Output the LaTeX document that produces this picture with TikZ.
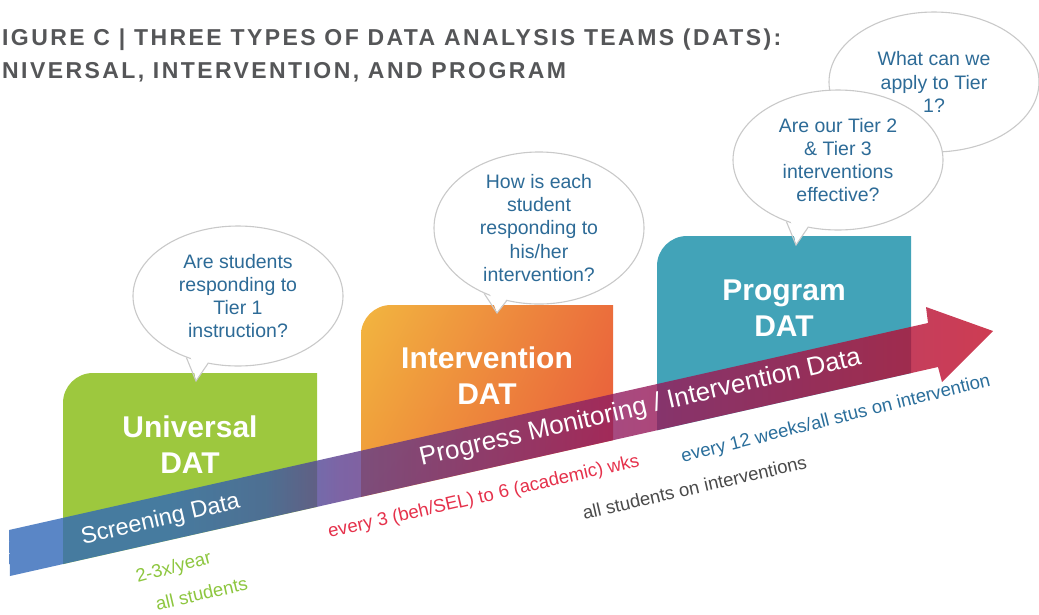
\documentclass[tikz,border=0pt]{standalone}
\usepackage{fontspec}
\setmainfont{Liberation Sans}
\newfontfamily\titlefont[LetterSpace=10.5]{Liberation Sans}
\usetikzlibrary{shapes.geometric,calc,shadings}

\definecolor{titlegray}{HTML}{555658}
\definecolor{unigreen}{HTML}{9DC83E}
\definecolor{proteal}{HTML}{42A3B8}
\definecolor{ivYellow}{HTML}{F2B640}
\definecolor{ivOrangeA}{HTML}{EB6E3C}
\definecolor{ivOrangeB}{HTML}{EF9539}
\definecolor{ivRed}{HTML}{E8553C}
\definecolor{qblue}{HTML}{2D6B97}
\definecolor{bubbleline}{HTML}{C9C9C9}
\definecolor{txtgreen}{HTML}{8DC63F}
\definecolor{txtred}{HTML}{E5314B}
\definecolor{txtgray}{HTML}{4A4A4A}
\definecolor{txtblue}{HTML}{2A6E9B}
\definecolor{bandA}{HTML}{3168B8}
\definecolor{bandAB}{HTML}{3A5AA8}
\definecolor{bandB}{HTML}{5C3D8E}
\definecolor{bandC}{HTML}{951A5C}
\definecolor{bandD}{HTML}{C10B27}

% colour run of the data arrow, left to right
\pgfdeclarehorizontalshading{bandshade}{100bp}{color(0bp)=(bandA); color(25bp)=(bandA);
  color(33bp)=(bandA); color(38bp)=(bandAB); color(41.8bp)=(bandB); color(56.9bp)=(bandC);
  color(75bp)=(bandD); color(100bp)=(bandD)}

% outlines of the three team panels (top-left corner rounded)
\newcommand\unipanel{(63,620) -- (63,403) .. controls (63,386.4) and (76.4,373) .. (93,373) -- (317,373) -- (317,620) -- cycle}
\newcommand\intpanel{(361,520) -- (361,335) .. controls (361,318.4) and (374.4,305) .. (391,305) -- (613,305) -- (613,520) -- cycle}
\newcommand\progpanel{(657,450) -- (657,266) .. controls (657,249.4) and (670.4,236) .. (687,236) -- (911,236) -- (911,450) -- cycle}
\newcommand\bandpath{(9,530) -- (928,323) -- (926,307) -- (993,331) -- (942,382) -- (938,367) -- (10,576) -- cycle}

\begin{document}
\begin{tikzpicture}[x=1pt,y=-1pt,
  titletext/.style={anchor=base west, inner sep=0pt, text=titlegray,
    font=\titlefont\fontsize{23}{27}\selectfont\bfseries},
  paneltext/.style={anchor=base, inner sep=0pt, text=white,
    font=\fontsize{30}{36}\selectfont\bfseries},
  bubble/.style={ellipse, draw=bubbleline, line width=1.1pt, fill=white,
    minimum width=210pt, minimum height=140pt, inner sep=0pt, align=center,
    text=qblue, font=\fontsize{19.5}{23.3}\selectfont},
  tailside/.style={draw=bubbleline, line width=1.1pt},
  bandtext/.style={anchor=base, inner sep=0pt, text=white, rotate=13},
  notetext/.style={anchor=base, inner sep=0pt, font=\fontsize{18.5}{22}\selectfont}]

\useasboundingbox (0,0) rectangle (1039,614);

% heading
\node[titletext] (title1) at (2,45) {IGURE C | THREE TYPES OF DATA ANALYSIS TEAMS (DATS):};
\node[titletext] (title2) at (2,78) {NIVERSAL, INTERVENTION, AND PROGRAM};

% team panels, ending at the lower edge of the arrow
\begin{scope}
  \clip (0,0) -- (1039,0) -- (1039,344.3) -- (0,578.3) -- cycle;
  \fill[unigreen] \unipanel;
  \shade[upper left=ivYellow, upper right=ivOrangeA, lower left=ivOrangeB, lower right=ivRed] \intpanel;
  \fill[proteal] \progpanel;
\end{scope}

% data arrow, laid over the panels
\shade[shading=bandshade, fill opacity=0.8] \bandpath;

% panel titles
\node[paneltext] (uni1) at (190,437) {Universal};
\node[paneltext] (uni2) at (190,473) {DAT};
\node[paneltext] (int1) at (487,368) {Intervention};
\node[paneltext] (int2) at (487,404) {DAT};
\node[paneltext] (pro1) at (784,300) {Program};
\node[paneltext] (pro2) at (784,336) {DAT};

% question bubbles
\node[bubble] (q4) at (934,82) {What can we\\apply to Tier\\1?};

\node[bubble] (q1) at (238,296) {Are students\\responding to\\Tier 1\\instruction?};
\node[bubble] (q2) at (539,228) {How is each\\student\\responding to\\his/her\\intervention?};
\node[bubble] (q3) at (838,160) {Are our Tier 2\\\& Tier 3\\interventions\\effective?};

\foreach \q in {q1,q2,q3} {
  \coordinate (\q tip) at ($(\q.center)+(-42,85)$);
  \fill[white] ($(\q.center)!0.93!(\q.230)$) -- (\q tip) -- ($(\q.center)!0.93!(\q.246)$) -- cycle;
  \draw[tailside] (\q.230) -- (\q tip) -- (\q.246);
}

% arrow labels
\node[bandtext, font=\fontsize{23.5}{28}\selectfont] (screen) at (162,526) {Screening Data};
\node[bandtext, font=\fontsize{26}{30}\selectfont] (progress) at (642,415) {Progress Monitoring / Intervention Data};

% frequencies and groups
\node[notetext, text=txtgreen, rotate=15] (freq1) at (175,573) {2-3x/year};
\node[notetext, text=txtgreen, rotate=13] (who1) at (203,600) {all students};
\node[notetext, text=txtred, rotate=13] (freq2) at (485,502) {every 3 (beh/SEL) to 6 (academic) wks};
\node[notetext, text=txtgray, rotate=13] (who2) at (696,494) {all students on interventions};
\node[notetext, text=txtblue, rotate=14] (freq3) at (837,424) {every 12 weeks/all stus on intervention};

\end{tikzpicture}
\end{document}
